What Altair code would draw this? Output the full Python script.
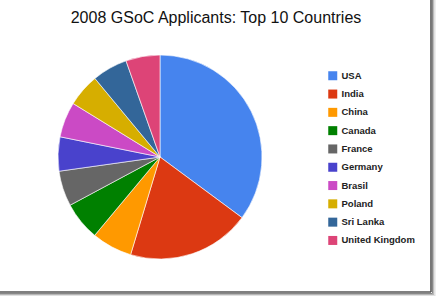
import altair as alt
import pandas as pd

countries = ["USA", "India", "China", "Canada", "France", "Germany",
             "Brasil", "Poland", "Sri Lanka", "United Kingdom"]
shares = [35.1, 19.5, 6.4, 6.1, 5.6, 5.4, 5.6, 5.2, 5.6, 5.4]
colors = ["#4684EE", "#DC3912", "#FF9900", "#008000", "#666666",
          "#4942CC", "#CB4AC5", "#D6AE00", "#336699", "#DD4477"]
title_text = "2008 GSoC Applicants: Top 10 Countries"

df = pd.DataFrame({"country": countries, "share": shares,
                   "idx": list(range(len(countries)))})

TOP = 30
W, H = 436, 296 - TOP

pie = alt.Chart(df).mark_arc(radius=102, stroke="white", strokeWidth=0.6).encode(
    theta=alt.Theta("share:Q", stack=True),
    order=alt.Order("idx:Q"),
    color=alt.Color(
        "country:N",
        scale=alt.Scale(domain=countries, range=colors),
        sort=countries,
        legend=alt.Legend(
            title=None, orient="none", legendX=328, legendY=41,
            symbolType="square", symbolSize=81, symbolStrokeWidth=0,
            labelFont="Liberation Sans", labelFontSize=9.5, labelFontWeight="bold",
            labelColor="#222222", labelOffset=4, rowPadding=7.3,
        ),
    ),
    x=alt.value(160),
    y=alt.value(127),
)

frame_df = pd.DataFrame({"k": [0]})
title_df = pd.DataFrame({"t": [title_text]})

title = alt.Chart(title_df).mark_text(
    font="Liberation Sans", fontSize=16, color="#111111",
    align="center", baseline="middle",
).encode(text="t:N", x=alt.value(216), y=alt.value(18 - TOP))

shadow = [("#555555", 0.0, 1.6), ("#888888", 1.5, 1.2), ("#b5b5b5", 2.7, 1.2), ("#dddddd", 3.9, 1.2)]
layers = [pie, title]
for col, off, sw in shadow:
    layers.append(alt.Chart(frame_df).mark_rule(color=col, strokeWidth=sw).encode(
        x=alt.value(431 + off), y=alt.value(-TOP), y2=alt.value(262 + off)))
    layers.append(alt.Chart(frame_df).mark_rule(color=col, strokeWidth=sw).encode(
        x=alt.value(0), x2=alt.value(431 + off), y=alt.value(262 + off)))

chart = alt.layer(*layers).properties(
    width=W, height=H,
    padding={"left": 0, "top": TOP, "right": 0, "bottom": 0},
    autosize=alt.AutoSizeParams(type="none"),
    background="white",
).configure_view(stroke=None)

chart.save("out.html", embed_options={"renderer": "svg", "actions": False})
